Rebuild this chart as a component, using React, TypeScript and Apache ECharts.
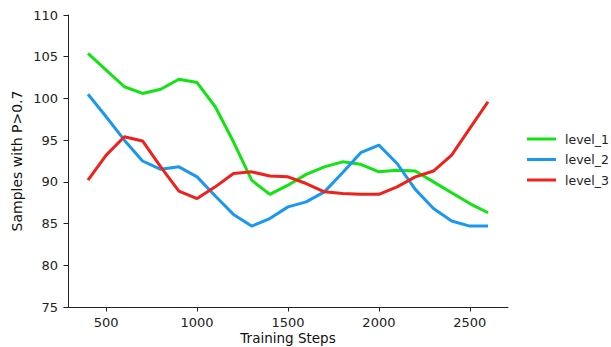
import React, { useEffect, useRef } from "react";
import * as echarts from "echarts";

const steps = [400, 500, 600, 700, 800, 900, 1000, 1100, 1200, 1300, 1400, 1500, 1600, 1700, 1800, 1900, 2000, 2100, 2200, 2300, 2400, 2500, 2600];
const level1 = [105.4, 103.4, 101.4, 100.6, 101.1, 102.3, 101.9, 99.0, 94.8, 90.2, 88.5, 89.6, 90.9, 91.8, 92.4, 92.1, 91.2, 91.4, 91.3, 90.0, 88.7, 87.4, 86.3];
const level2 = [100.5, 97.8, 95.0, 92.5, 91.5, 91.8, 90.6, 88.3, 86.1, 84.7, 85.6, 87.0, 87.6, 88.8, 91.1, 93.5, 94.4, 92.2, 89.1, 86.8, 85.3, 84.7, 84.7];
const level3 = [90.2, 93.2, 95.4, 94.9, 91.8, 88.9, 88.0, 89.4, 91.0, 91.2, 90.7, 90.6, 89.8, 88.8, 88.6, 88.5, 88.5, 89.4, 90.6, 91.3, 93.2, 96.4, 99.6];
const xTicks = [500, 1000, 1500, 2000, 2500];
const yTicks = [75, 80, 85, 90, 95, 100, 105, 110];
const names = ["level_1", "level_2", "level_3"];
const colors = ["#12e312", "#1a98f0", "#f0201a"];

export default function App() {
  const ref = useRef<HTMLDivElement>(null);
  useEffect(() => {
    if (!ref.current) return;
    const chart = echarts.init(ref.current, null, { renderer: "svg" });
    const font = "DejaVu Sans";
    const seriesData = [level1, level2, level3];
    chart.setOption({
      animation: false,
      textStyle: { fontFamily: font },
      grid: { left: 68, right: 103, top: 15, bottom: 40, containLabel: false, outerBoundsMode: "none" },
      legend: {
        orient: "vertical",
        left: 527,
        top: 132,
        padding: 0,
        icon: "rect",
        itemWidth: 29,
        itemHeight: 3,
        itemGap: 6.5,
        textStyle: { fontFamily: font, fontSize: 12.5, color: "#222", lineHeight: 14, padding: [0, 0, 0, 4] },
        data: names,
      },
      xAxis: {
        type: "value",
        min: 290,
        max: 2710,
        name: "Training Steps",
        nameLocation: "middle",
        nameGap: 23,
        nameMoveOverlap: false,
        nameTextStyle: { fontFamily: font, fontSize: 13.5, color: "#111", lineHeight: 15 },
        axisLine: { show: true, lineStyle: { color: "#222", width: 1 } },
        axisTick: { show: true, length: 4.5, customValues: xTicks, lineStyle: { color: "#222" } },
        axisLabel: {
          customValues: xTicks,
          fontFamily: font,
          fontSize: 13,
          color: "#222",
          margin: 9,
          formatter: (v: number) => String(v),
        },
        splitLine: { show: false },
      },
      yAxis: {
        type: "value",
        min: 75,
        max: 110,
        interval: 5,
        name: "Samples with P>0.7",
        nameLocation: "middle",
        nameGap: 44,
        nameMoveOverlap: false,
        nameTextStyle: { fontFamily: font, fontSize: 14, color: "#111" },
        axisLine: { show: true, lineStyle: { color: "#222", width: 1 } },
        axisTick: { show: true, length: 4.5, customValues: yTicks, lineStyle: { color: "#222" } },
        axisLabel: {
          customValues: yTicks,
          fontFamily: font,
          fontSize: 13,
          color: "#222",
          margin: 10,
          formatter: (v: number) => String(v),
        },
        splitLine: { show: false },
      },
      series: names.map((n, i) => ({
        name: n,
        type: "line",
        data: steps.map((s, j) => [s, seriesData[i][j]]),
        showSymbol: false,
        symbol: "none",
        lineStyle: { color: colors[i], width: 3 },
        itemStyle: { color: colors[i] },
      })),
    });
    return () => chart.dispose();
  }, []);
  return <div ref={ref} style={{ width: 611, height: 347, position: "absolute", left: 0, top: 0 }} />;
}
